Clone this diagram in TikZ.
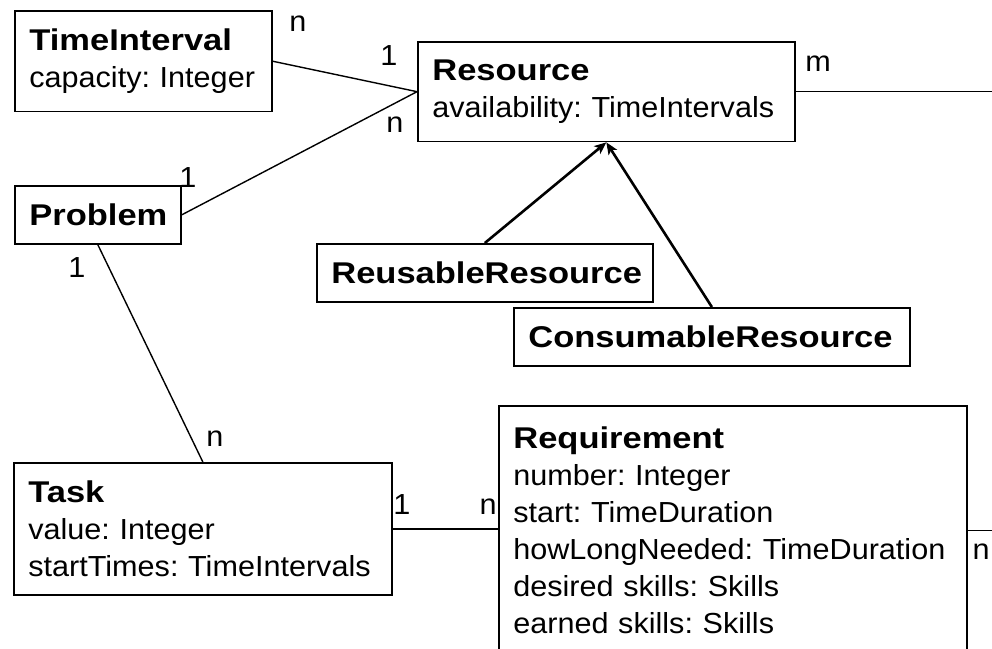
\documentclass[tikz,border=0pt]{standalone}
\usepackage{fontspec}
\setmainfont{Liberation Sans}
\newfontfamily\bodyfont[FakeStretch=1.055]{Liberation Sans}
\newfontfamily\headfont[FakeStretch=1.15]{Liberation Sans}
\usetikzlibrary{arrows.meta}
\frenchspacing
\hyphenpenalty=10000
\exhyphenpenalty=10000

\newcommand{\hd}[1]{{\headfont\bfseries\fontsize{30}{37}\selectfont #1}}

\begin{document}
\begin{tikzpicture}[x=1pt,y=-1pt,
  cls/.style={draw,line width=1.7pt,anchor=north west,align=left,
    inner xsep=14.5pt,inner ysep=18pt,font=\bodyfont\fontsize{29}{37}\selectfont},
  mult/.style={inner sep=0pt,font=\bodyfont\fontsize{29}{37}\selectfont},
  assoc/.style={line width=1.4pt},
  isa/.style={line width=2.6pt,-{Stealth[length=12pt,width=10pt,inset=3pt]}}]

\useasboundingbox (0,0) rectangle (992,648);
\clip (0,0) rectangle (992,648);

\node[cls,text width=228pt] (ti) at (14,10) {\hd{TimeInterval}\\capacity: Integer};
\node[cls,text width=348pt] (res) at (417,41) {\hd{Resource}\\availability: TimeIntervals};
\node[cls,text width=137pt] (prob) at (14,185) {\hd{Problem}};
\node[cls,text width=307pt] (reuse) at (316,243) {\hd{ReusableResource}};
\node[cls,text width=367pt] (cons) at (513,307) {\hd{ConsumableResource}};
\node[cls,text width=349pt] (task) at (13,462)
  {\hd{Task}\\value: Integer\\startTimes: TimeIntervals};
\node[cls,text width=439pt,inner ysep=21pt] (req) at (498,405)
  {\hd{Requirement}\\number: Integer\\start: TimeDuration\\howLongNeeded: TimeDuration\\desired skills: Skills\\earned skills: Skills};

% lines leaving the picture on the right
\coordinate (rim) at (1000,0);

\draw[assoc] (ti.east) -- (res.west);
\draw[assoc] (prob.east) -- (res.west);
\draw[assoc] (prob.south) -- (task.north);
\draw[assoc] (task.east) -- (task.east -| req.west);
\draw[assoc] (res.east) -- (res.east -| rim);
\draw[assoc] (req.east) -- (req.east -| rim);

\draw[isa] (reuse.north) -- (res.south);
\draw[isa] (cons.north) -- (res.south);

\node[mult] (tiN) at (298,24) {n};
\node[mult] (resTi) at (389,56) {1};
\node[mult] (resProb) at (395,125) {n};
\node[mult] (probRes) at (188,178) {1};
\node[mult] (probTask) at (77,268) {1};
\node[mult] (taskProb) at (215,439) {n};
\node[mult] (taskReq) at (402,505) {1};
\node[mult] (reqTask) at (488,507) {n};
\node[mult] (resOut) at (818,64) {m};
\node[mult] (reqOut) at (981,552) {n};

\end{tikzpicture}
\end{document}
